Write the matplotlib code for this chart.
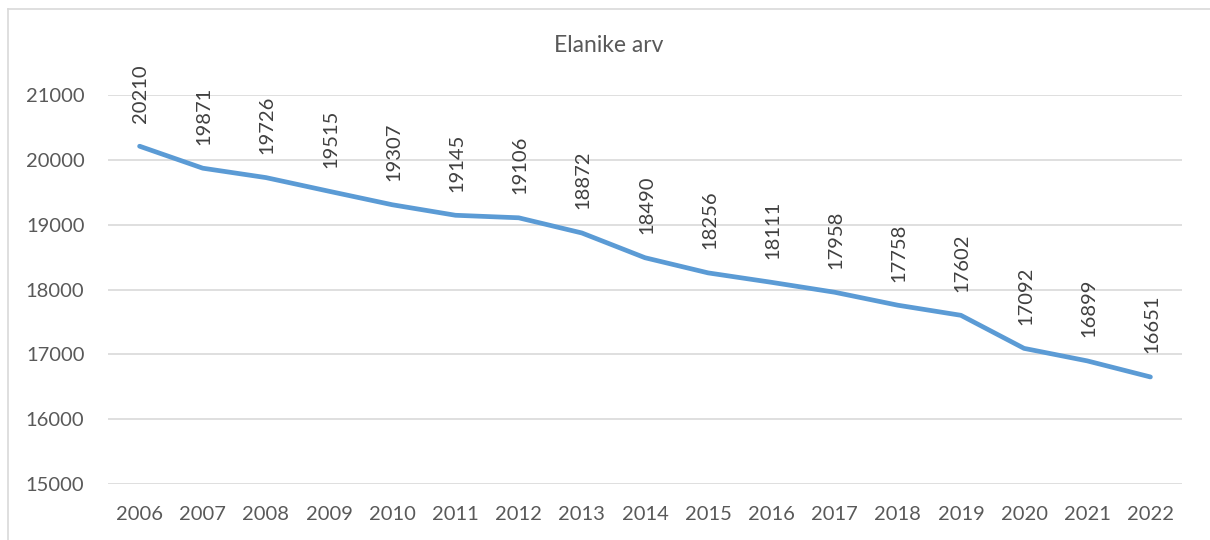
import matplotlib.pyplot as plt
from matplotlib.lines import Line2D

years = ['2006', '2007', '2008', '2009', '2010', '2011', '2012', '2013', '2014',
         '2015', '2016', '2017', '2018', '2019', '2020', '2021', '2022']
population = [20210, 19871, 19726, 19515, 19307, 19145, 19106, 18872, 18490,
              18256, 18111, 17958, 17758, 17602, 17092, 16899, 16651]
y_ticks = [15000, 16000, 17000, 18000, 19000, 20000, 21000]

plt.rcParams['font.family'] = ['Lato', 'DejaVu Sans']
text_color = '#595959'

fig = plt.figure(figsize=(12.1, 5.4), dpi=100)
ax = fig.add_axes([108 / 1210, 1 - 484 / 540, (1182 - 108) / 1210, (484 - 95) / 540])

x = list(range(len(years)))
ax.plot(x, population, color='#5B9BD5', linewidth=3.4, solid_capstyle='round',
        solid_joinstyle='round', zorder=3)

for xi, val in zip(x, population):
    ax.annotate(str(val), (xi, val), xytext=(1, 17), textcoords='offset points',
                rotation=90, ha='center', va='bottom', fontsize=14.5,
                color='#404040', annotation_clip=False)

ax.set_xlim(-0.5, len(years) - 0.5)
ax.set_ylim(15000, 21000)
ax.set_yticks(y_ticks)
ax.set_xticks(x)
ax.set_xticklabels(years)
ax.grid(axis='y', color='#D9D9D9', linewidth=1.2, zorder=0)
ax.set_axisbelow(True)
for s in ax.spines.values():
    s.set_visible(False)
ax.tick_params(axis='both', length=0, labelsize=14.5, labelcolor=text_color)
ax.tick_params(axis='y', pad=17)
ax.tick_params(axis='x', pad=16)

fig.text(609 / 1210, 1 - 46 / 540, 'Elanike arv', ha='center', va='center',
         fontsize=16.5, color=text_color)

# outer chart border: only top and left edges are visible in the crop
fig.lines.append(Line2D([8 / 1210, 1.0], [1 - 9 / 540, 1 - 9 / 540],
                        transform=fig.transFigure, color='#D9D9D9', linewidth=1.2))
fig.lines.append(Line2D([8 / 1210, 8 / 1210], [0.0, 1 - 9 / 540],
                        transform=fig.transFigure, color='#D9D9D9', linewidth=1.2))

fig.savefig('out.png', dpi=100)
